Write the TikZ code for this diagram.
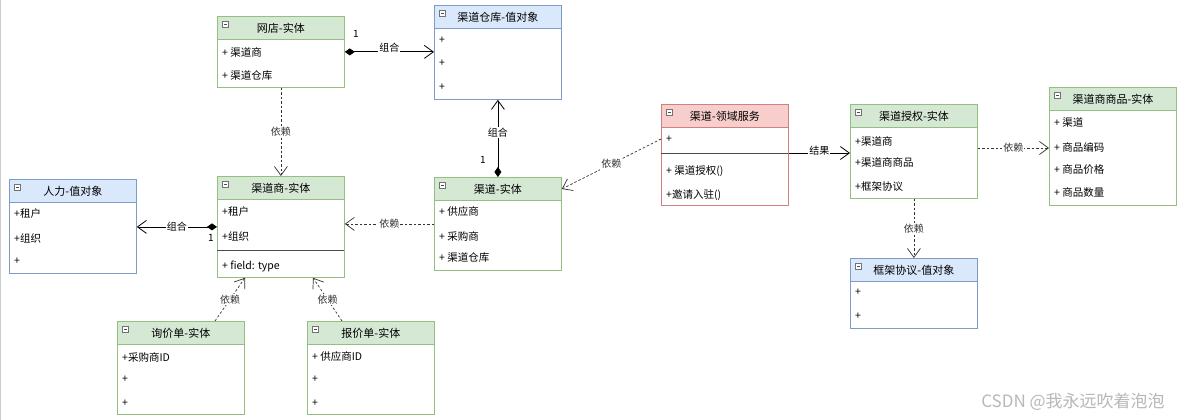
\documentclass[tikz,border=0pt]{standalone}
\usepackage{fontspec}
\newfontfamily\cjk{Noto Sans CJK SC}
\usetikzlibrary{arrows.meta}
\definecolor{greenline}{HTML}{94BF80}
\definecolor{greenfill}{HTML}{D5E8D4}
\definecolor{blueline}{HTML}{7F9CC8}
\definecolor{bluefill}{HTML}{DAE8FC}
\definecolor{redline}{HTML}{D08080}
\definecolor{redfill}{HTML}{F8CECC}
\tikzset{
  classbody/.style={draw=#1line, fill=white, anchor=north west, minimum width=127pt, inner sep=0pt, line width=0.8pt},
  classhead/.style={draw=#1line, fill=#1fill, anchor=north west, minimum width=127pt, minimum height=23pt, inner sep=0pt, line width=0.8pt},
  headtext/.style={font=\cjk\fontsize{11}{13}\selectfont},
  attr/.style={anchor=west, inner sep=0pt, font=\cjk\fontsize{10.5}{12}\selectfont},
  lbl/.style={fill=white, inner sep=1pt, font=\cjk\fontsize{10}{12}\selectfont},
  mult/.style={inner sep=0pt, font=\cjk\fontsize{10}{12}\selectfont},
  sepline/.style={draw=black!70, line width=1pt},
  comp/.style={{Diamond[length=10pt,width=7pt]}-{Straight Barb[length=9pt,width=13pt]}, line width=0.8pt},
  assoc/.style={-{Straight Barb[length=9pt,width=13pt]}, line width=0.8pt},
  dep/.style={-{Straight Barb[length=9pt,width=13pt]}, dash pattern=on 2.5pt off 2pt, line width=0.7pt, black!80}
}
\newcommand\umlclass[6]{%
  \node[classbody=#5, minimum height=#4pt] (#1) at (#2,#3) {};
  \node[classhead=#5] (#1-head) at (#1.north west) {};
  \node[headtext] (#1-title) at (#1-head) {#6};
  \draw[black!55, fill=white, line width=0.6pt] ({#2+5},{#3+5}) rectangle ({#2+11},{#3+11});
  \draw[black!70, line width=0.6pt] ({#2+6.5},{#3+8}) -- ({#2+9.5},{#3+8});
}
\begin{document}
\begin{tikzpicture}[x=1pt, y=-1pt, font=\cjk]
\useasboundingbox[fill=white] (0,0) rectangle (1184,420);
\draw[black!20, line width=0.8pt] (0.5,0) -- (0.5,420);

\umlclass{wd}{217}{16}{71}{green}{网店-实体}
\node[attr] (wd-1) at (222,52) {+ 渠道商};
\node[attr] (wd-2) at (222,76) {+ 渠道仓库};

\umlclass{cw}{434}{5}{94}{blue}{渠道仓库-值对象}
\node[attr] (cw-1) at (439,40) {+};
\node[attr] (cw-2) at (439,63) {+};
\node[attr] (cw-3) at (439,87) {+};

\umlclass{qs}{217}{176}{101}{green}{渠道商-实体}
\node[attr] (qs-1) at (222,212) {+租户};
\node[attr] (qs-2) at (222,237) {+组织};
\draw[sepline] (217,250) -- (344,250);
\node[attr] (qs-3) at (222,266) {+ field: type};

\umlclass{rl}{9}{179}{94}{blue}{人力-值对象}
\node[attr] (rl-1) at (14,214) {+租户};
\node[attr] (rl-2) at (14,239) {+组织};
\node[attr] (rl-3) at (14,261) {+};

\umlclass{xj}{117}{321}{93}{green}{询价单-实体}
\node[attr] (xj-1) at (122,357) {+采购商ID};
\node[attr] (xj-2) at (122,379) {+};
\node[attr] (xj-3) at (122,403) {+};

\umlclass{bj}{307}{321}{93}{green}{报价单-实体}
\node[attr] (bj-1) at (312,357) {+ 供应商ID};
\node[attr] (bj-2) at (312,379) {+};
\node[attr] (bj-3) at (312,403) {+};

\umlclass{qd}{434}{177}{93}{green}{渠道-实体}
\node[attr] (qd-1) at (439,212) {+ 供应商};
\node[attr] (qd-2) at (439,236) {+ 采购商};
\node[attr] (qd-3) at (439,258) {+ 渠道仓库};

\umlclass{ly}{661}{104}{101}{red}{渠道-领域服务}
\node[attr] (ly-1) at (666,139) {+};
\draw[sepline] (661,153) -- (788,153);
\node[attr] (ly-2) at (666,171) {+ 渠道授权()};
\node[attr] (ly-3) at (666,195) {+邀请入驻()};

\umlclass{sq}{850}{104}{94}{green}{渠道授权-实体}
\node[attr] (sq-1) at (855,141) {+渠道商};
\node[attr] (sq-2) at (855,162) {+渠道商商品};
\node[attr] (sq-3) at (855,187) {+框架协议};

\umlclass{sp}{1049}{87}{118}{green}{渠道商商品-实体}
\node[attr] (sp-1) at (1054,122) {+ 渠道};
\node[attr] (sp-2) at (1054,147) {+ 商品编码};
\node[attr] (sp-3) at (1054,170) {+ 商品价格};
\node[attr] (sp-4) at (1054,193) {+ 商品数量};

\umlclass{kj}{850}{258}{70}{blue}{框架协议-值对象}
\node[attr] (kj-1) at (855,292) {+};
\node[attr] (kj-2) at (855,316) {+};

\draw[comp] (wd.east) -- (wd.east -| cw.west) node[lbl, midway, yshift=4pt] {组合};
\node[mult] (m1) at (356,34) {1};
\draw[comp] (qd.north) -- (cw.south) node[lbl, pos=0.58] {组合};
\node[mult] (m2) at (483,160) {1};
\draw[comp] (qs.west) -- (qs.west -| rl.east) node[lbl, midway] {组合};
\node[mult] (m3) at (211,238) {1};

\draw[dep] (wd.south) -- (qs.north) node[lbl, midway] {依赖};
\draw[dep] (qd.west) -- (qd.west -| qs.east) node[lbl, midway] {依赖};
\draw[dep] (215,0 |- xj.north) -- (245,0 |- qs.south) node[lbl, midway] {依赖};
\draw[dep] (342,0 |- bj.north) -- (313,0 |- qs.south) node[lbl, midway] {依赖};
\draw[dep] (ly.west |- 0,139) -- (qd.east |- 0,189) node[lbl, midway] {依赖};
\draw[assoc] (ly.east |- 0,153) -- (sq.west |- 0,153) node[lbl, midway, yshift=2pt] {结果};
\draw[dep] (sq.east |- 0,148) -- (sp.west |- 0,148) node[lbl, midway] {依赖};
\draw[dep] (sq.south) -- (kj.north) node[lbl, midway] {依赖};

\node[text=black!28, font=\cjk\fontsize{17}{19}\selectfont] (mark) at (1073,402) {CSDN @我永远吹着泡泡};
\end{tikzpicture}
\end{document}
